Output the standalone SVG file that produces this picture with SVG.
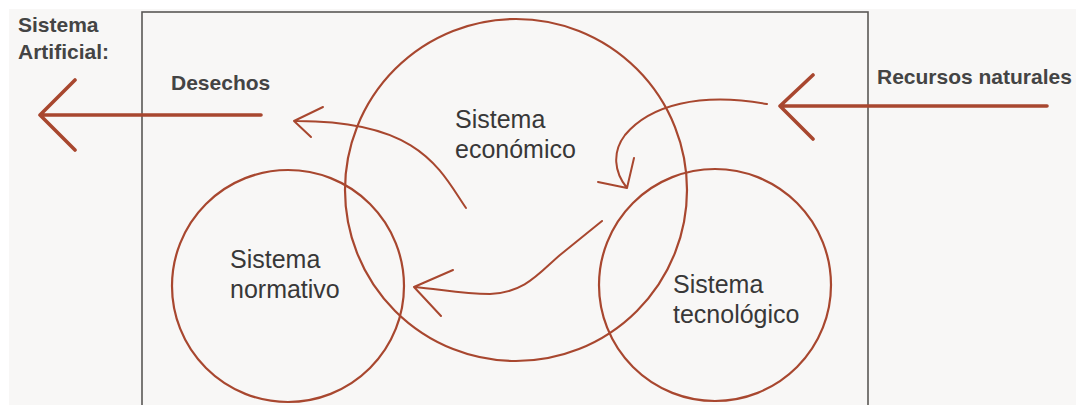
<svg xmlns="http://www.w3.org/2000/svg" width="1076" height="405" viewBox="0 0 1076 405">
<style>
.bg{fill:#f8f7f6}
.frame{fill:none;stroke:#5a5856;stroke-width:1.6}
.c{fill:none;stroke:#a8472f;stroke-width:2.2}
.big{fill:none;stroke:#a8472f;stroke-width:3.6;stroke-linecap:round;stroke-linejoin:round}
.thin{fill:none;stroke:#a8472f;stroke-width:2;stroke-linecap:round;stroke-linejoin:round}
.lbl{font-family:"Liberation Sans",Arial,sans-serif;font-size:25px;fill:#383838}
.bold{font-family:"Liberation Sans",Arial,sans-serif;font-size:21px;font-weight:bold;fill:#444}
</style>
<rect width="1076" height="405" fill="#ffffff"/>
<rect class="bg" x="9" y="9" width="1067" height="396"/>
<rect class="frame" x="142" y="12" width="726" height="400"/>
<g id="sistema-artificial">
<text class="bold" x="18" y="32">Sistema</text>
<text class="bold" x="18" y="59">Artificial:</text>
</g>
<g id="node-economico">
<circle class="c" cx="516" cy="190" r="171"/>
<text class="lbl" x="455" y="128">Sistema</text>
<text class="lbl" x="455" y="158">económico</text>
</g>
<g id="node-normativo">
<circle class="c" cx="288" cy="286" r="116"/>
<text class="lbl" x="230" y="268">Sistema</text>
<text class="lbl" x="230" y="298">normativo</text>
</g>
<g id="node-tecnologico">
<circle class="c" cx="715" cy="285" r="116"/>
<text class="lbl" x="673" y="293">Sistema</text>
<text class="lbl" x="673" y="323">tecnológico</text>
</g>
<g id="connectors">
<path class="big" d="M261 115 H40 M75 80 L40 115 L75 150"/>
<text class="bold" x="171" y="90">Desechos</text>
<path class="big" d="M1047 106 H780 M813 75 L780 106 L813 139"/>
<text class="bold" x="877" y="84">Recursos naturales</text>
<path class="thin" d="M466 208 C440 170 420 120 294 121 M323 107 L294 121 L311 137"/>
<path class="thin" d="M767 104 C700 92 650 105 625 135 C612 152 614 172 627 188 M634 158 L627 188 L598 182"/>
<path class="thin" d="M602 221 L560 255 C540 272 525 293 490 294 C460 294 440 289 414 287 M453 270 L414 287 L441 316"/>
</g>
</svg>
